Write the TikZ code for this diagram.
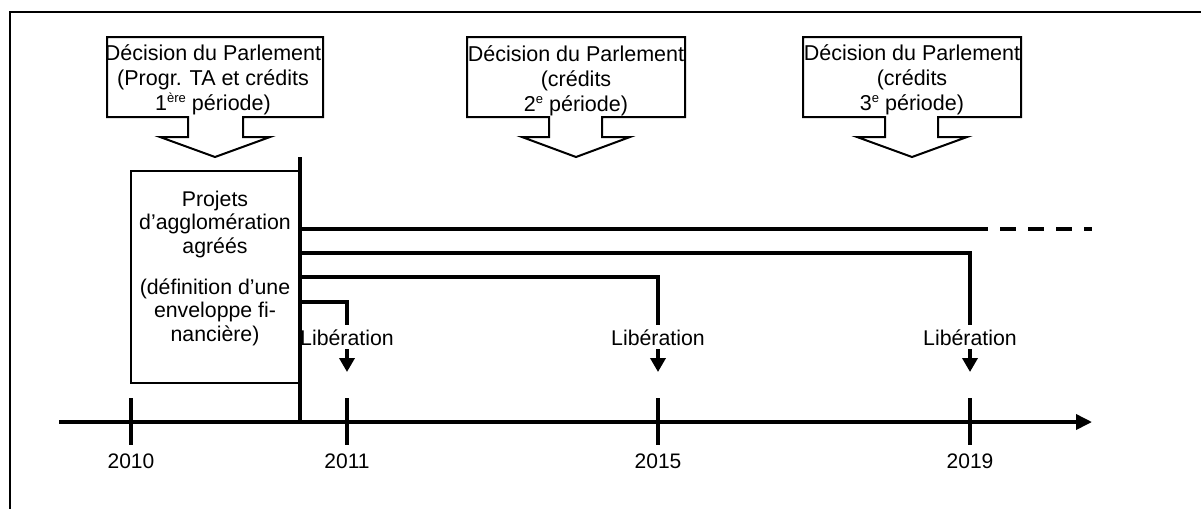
\documentclass[tikz,border=0pt]{standalone}
\usepackage{fontspec}
\setmainfont{Liberation Sans}
\usetikzlibrary{arrows.meta}
\newcommand\mysup[1]{\raisebox{0.38em}{\fontsize{13}{13}\selectfont #1}}
\tikzset{
  frame/.style={line width=2.6pt, line cap=butt},
  callout/.style={line width=2pt, line join=miter},
  ctext/.style={inner sep=0pt, align=center, anchor=north, font=\fontsize{21.5}{25.3}\selectfont},
  pbox/.style={draw, line width=2pt, inner sep=0pt},
  ptext/.style={inner sep=0pt, align=center, anchor=north, font=\fontsize{21.3}{23.3}\selectfont},
  bar/.style={line width=4.5pt},
  feed/.style={line width=3.6pt, line join=miter},
  libtext/.style={inner xsep=0pt, inner ysep=4pt, anchor=base, font=\fontsize{21.3}{25}\selectfont},
  relarrow/.style={line width=3.6pt, -{Triangle[width=15pt,length=14pt]}},
  axis/.style={line width=3.6pt, -{Triangle[width=15pt,length=16pt]}},
  tick/.style={line width=4pt},
  year/.style={inner sep=0pt, anchor=base, font=\fontsize{21}{25}\selectfont},
}
\begin{document}
\begin{tikzpicture}[x=1pt,y=-1pt]
\useasboundingbox (0,0) rectangle (1201,509);
% frame
\draw[frame] (9,12) -- (1201,12);
\draw[frame] (10,12) -- (10,509);

% callouts
\draw[callout] (107,37) -- (323,37) -- (323,117) -- (243,117) -- (243,137) -- (270,137) -- (215,157) -- (160,137) -- (188,137) -- (188,117) -- (107,117) -- cycle;
\node[ctext] (dec1) at (213,44) {Décision du Parlement\\(Progr. TA et crédits\\1\mysup{ère} période)};

\draw[callout] (467,37) -- (685,37) -- (685,117) -- (602,117) -- (602,137) -- (630,137) -- (576,157) -- (522,137) -- (549,137) -- (549,117) -- (467,117) -- cycle;
\node[ctext] (dec2) at (576,45) {Décision du Parlement\\(crédits\\2\mysup{e} période)};

\draw[callout] (803,37) -- (1021,37) -- (1021,117) -- (938,117) -- (938,137) -- (967,137) -- (912,157) -- (857,137) -- (885,137) -- (885,117) -- (803,117) -- cycle;
\node[ctext] (dec3) at (912,44) {Décision du Parlement\\(crédits\\3\mysup{e} période)};

% projects box
\node[pbox, minimum width=168pt, minimum height=212pt] (proj) at (215,277) {};
\node[ptext] (projtxt) at (215,191) {Projets\\d’agglomération\\agréés\\[18pt](définition d’une\\enveloppe fi-\\nancière)};

% axis
\coordinate (axL) at (59,422);
\coordinate (axR) at (1092,422);
\draw[axis] (axL) -- (axR);

% ticks
\foreach \n/\x in {t0/131,t1/347,t2/658,t3/970}{
  \coordinate (\n top) at (\x,398);
  \coordinate (\n bot) at (\x,445);
  \draw[tick] (\n top) -- (\n bot);
}
\node[year] (y0) at (131,468) {2010};
\node[year] (y1) at (347,468) {2011};
\node[year] (y2) at (658,468) {2015};
\node[year] (y3) at (970,468) {2019};

% vertical bar
\coordinate (barT) at (300,157);
\coordinate (barB) at (300,422);
\draw[bar] (barT) -- (barB);

% Libération labels
\node[libtext] (lib1) at (347,345) {Libération};
\node[libtext] (lib2) at (658,345) {Libération};
\node[libtext] (lib3) at (970,345) {Libération};

% feed lines
\coordinate (fA) at (300,229);
\coordinate (fAend) at (972,229);
\coordinate (fAdash) at (1092,229);
\coordinate (fB) at (300,253);
\coordinate (fC) at (300,277);
\coordinate (fD) at (300,302);
\draw[feed] (fA) -- (fAend);
\draw[feed, dash pattern=on 16pt off 12pt] (fAend) -- (fAdash);
\draw[feed] (fB) -| (lib3.north);
\draw[feed] (fC) -| (lib2.north);
\draw[feed] (fD) -| (lib1.north);

% release arrows
\coordinate (r1) at (347,372);
\coordinate (r2) at (658,372);
\coordinate (r3) at (970,372);
\draw[relarrow] (lib1.south) -- (r1);
\draw[relarrow] (lib2.south) -- (r2);
\draw[relarrow] (lib3.south) -- (r3);
\end{tikzpicture}
\end{document}
